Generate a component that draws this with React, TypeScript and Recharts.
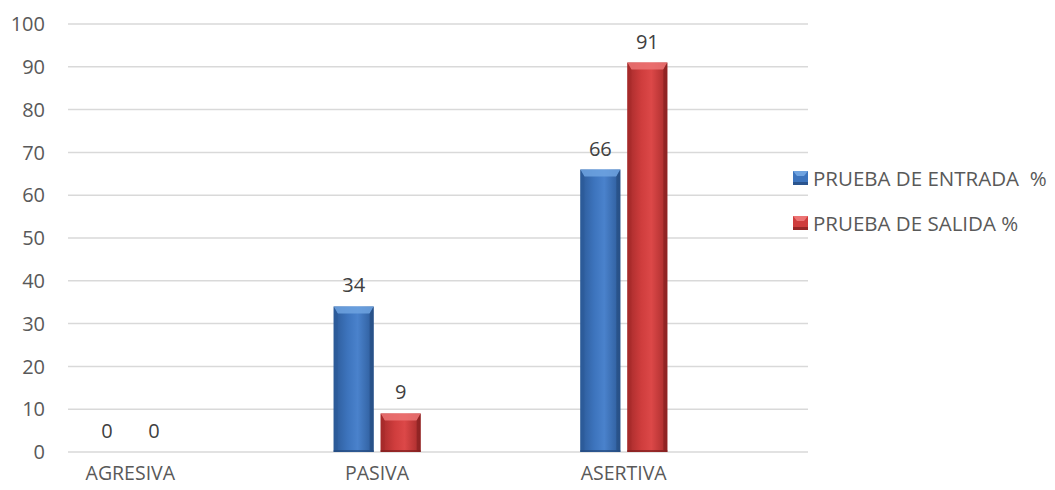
import React from "react";
import { BarChart, Bar, XAxis, YAxis, CartesianGrid, LabelList } from "recharts";

const categories = ["AGRESIVA", "PASIVA", "ASERTIVA"];
const entrada = [0, 34, 66];
const salida = [0, 9, 91];
const yTicks = [0, 10, 20, 30, 40, 50, 60, 70, 80, 90, 100];
const seriesNames = ["PRUEBA DE ENTRADA  %", "PRUEBA DE SALIDA %"];

const data = categories.map((c, i) => ({ name: c, entrada: entrada[i], salida: salida[i] }));

const FONT = "'Open Sans', 'Liberation Sans', sans-serif";

const palettes: Record<string, { dark: string; mid: string; light: string; bevel: string; bottom: string }> = {
  blue: { dark: "#2C5A98", mid: "#3D74BD", light: "#4A82CC", bevel: "#6FA3E0", bottom: "#24497C" },
  red: { dark: "#A52A2A", mid: "#CF3D3D", light: "#DC4848", bevel: "#EC7474", bottom: "#7E1E1E" },
};

const makeShape = (key: string) => (props: any) => {
  const { x, y, width, height } = props;
  if (!height || height <= 0) return <g />;
  const p = palettes[key];
  const b = Math.min(7, height / 2);
  const e = 4;
  return (
    <g>
      <rect x={x} y={y} width={width} height={height} fill={`url(#grad-${key})`} />
      <polygon points={`${x},${y} ${x + width},${y} ${x + width - e},${y + b} ${x + e},${y + b}`} fill={p.bevel} opacity={0.85} />
      <polygon points={`${x},${y} ${x + e},${y + b} ${x + e},${y + height - 2} ${x},${y + height}`} fill={p.dark} opacity={0.6} />
      <polygon points={`${x + width},${y} ${x + width - e},${y + b} ${x + width - e},${y + height - 2} ${x + width},${y + height}`} fill={p.bottom} opacity={0.6} />
      <rect x={x} y={y + height - 2} width={width} height={2} fill={p.bottom} opacity={0.7} />
    </g>
  );
};

const LegendBox = () => (
  <div style={{ position: "absolute", left: 793, top: 156, fontFamily: FONT, fontSize: 20.5, color: "#595959" }}>
    {["blue", "red"].map((k, i) => (
      <div key={k} style={{ display: "flex", alignItems: "center", height: 44.5, whiteSpace: "pre" }}>
        <svg width={15} height={14} style={{ marginRight: 5 }}>
          <rect x={0} y={0} width={15} height={14} fill={palettes[k].mid} />
          <polygon points="0,0 15,0 11,5 4,5" fill={palettes[k].bevel} />
          <rect x={0} y={11} width={15} height={3} fill={palettes[k].bottom} opacity={0.7} />
        </svg>
        <span>{seriesNames[i]}</span>
      </div>
    ))}
  </div>
);

export default function App() {
  return (
    <div style={{ position: "absolute", left: 0, top: 0, width: 1055, height: 490, background: "#fff" }}>
      <BarChart
        width={1055}
        height={490}
        data={data}
        margin={{ top: 24, right: 247, left: 0, bottom: 0 }}
        barSize={40}
        barGap={7}
      >
        <defs>
          {Object.keys(palettes).map((k) => (
            <linearGradient key={k} id={`grad-${k}`} x1="0" y1="0" x2="1" y2="0">
              <stop offset="0%" stopColor={palettes[k].dark} />
              <stop offset="35%" stopColor={palettes[k].mid} />
              <stop offset="60%" stopColor={palettes[k].light} />
              <stop offset="100%" stopColor={palettes[k].dark} />
            </linearGradient>
          ))}
        </defs>
        <CartesianGrid vertical={false} stroke="#d9d9d9" strokeWidth={1.5} />
        <XAxis
          dataKey="name"
          height={38}
          axisLine={false}
          tickLine={false}
          tickSize={0}
          tickMargin={14}
          padding={{ left: -61, right: 61 }}
          tick={{ fill: "#595959", fontSize: 19.5, fontFamily: FONT }}
        />
        <YAxis
          width={68}
          domain={[0, 100]}
          ticks={yTicks}
          axisLine={false}
          tickLine={false}
          tickSize={0}
          tickMargin={23}
          tick={{ fill: "#595959", fontSize: 20, fontFamily: FONT }}
        />
        <Bar dataKey="entrada" isAnimationActive={false} shape={makeShape("blue")} fill="#3D74BD">
          <LabelList dataKey="entrada" position="top" offset={14} fill="#404040" fontSize={20} fontFamily={FONT} />
        </Bar>
        <Bar dataKey="salida" isAnimationActive={false} shape={makeShape("red")} fill="#CF3D3D">
          <LabelList dataKey="salida" position="top" offset={14} fill="#404040" fontSize={20} fontFamily={FONT} />
        </Bar>
      </BarChart>
      <LegendBox />
    </div>
  );
}
